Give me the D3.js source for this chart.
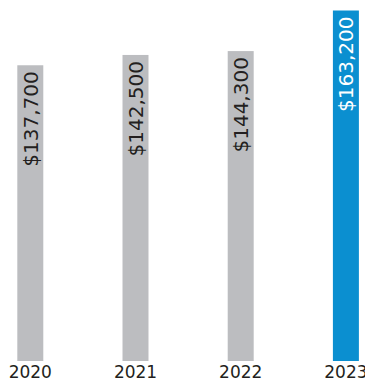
<!DOCTYPE html>
<html>
<head>
<meta charset="utf-8">
<script src="https://cdn.jsdelivr.net/npm/d3@7"></script>
<style>
  html, body { margin: 0; padding: 0; background: #ffffff; }
  svg { display: block; }
</style>
</head>
<body>
<div id="chart"></div>
<script>
// Median price by year
const years = ["2020", "2021", "2022", "2023"];
const prices = [137700, 142500, 144300, 163200];
const valueLabels = ["$137,700", "$142,500", "$144,300", "$163,200"];
const highlightYear = "2023";

const width = 365, height = 379;
const baseline = 361;

const svg = d3.select("#chart").append("svg")
  .attr("width", width)
  .attr("height", height);

// Band centres sit one step apart; outer padding is half the inner padding
const x = d3.scaleBand()
  .domain(years)
  .range([-22.3, 398.5])
  .paddingInner(0.753)
  .paddingOuter(0.3765);

const y = d3.scaleLinear()
  .domain([0, d3.max(prices)])
  .range([baseline, 10.5]);

const data = years.map((yr, i) => ({ year: yr, value: prices[i], label: valueLabels[i] }));

const grey = "#bcbdc0", blue = "#0b8fd0", ink = "#231f20";

svg.append("g")
  .selectAll("rect")
  .data(data)
  .join("rect")
  .attr("x", d => x(d.year))
  .attr("y", d => y(d.value))
  .attr("width", x.bandwidth())
  .attr("height", d => baseline - y(d.value))
  .attr("fill", d => d.year === highlightYear ? blue : grey);

// Value labels run up the inside of each bar
svg.append("g")
  .selectAll("text")
  .data(data)
  .join("text")
  .attr("transform", d => `translate(${x(d.year) + x.bandwidth() / 2},${y(d.value) + 6}) rotate(-90)`)
  .attr("text-anchor", "end")
  .attr("dy", "0.36em")
  .attr("font-family", "'DejaVu Sans', sans-serif")
  .attr("font-size", 20)
  .attr("fill", d => d.year === highlightYear ? "#ffffff" : ink)
  .text(d => d.label);

// Year axis without line or ticks
const axis = svg.append("g")
  .attr("transform", `translate(0,${baseline})`)
  .call(d3.axisBottom(x).tickSize(0).tickPadding(5));
axis.select(".domain").remove();
axis.selectAll("text")
  .attr("font-family", "'DejaVu Sans', sans-serif")
  .attr("font-size", 17)
  .attr("fill", ink);
</script>
</body>
</html>
